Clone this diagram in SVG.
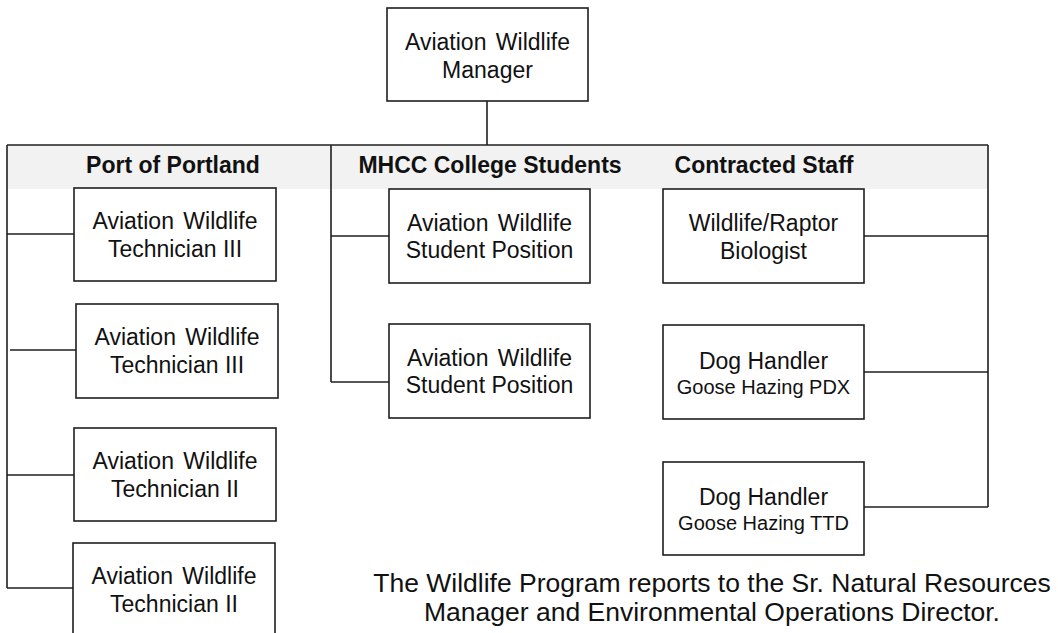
<svg xmlns="http://www.w3.org/2000/svg" width="1058" height="633" viewBox="0 0 1058 633">
<style>
  .box { fill: #ffffff; stroke: #1f1f1f; stroke-width: 1.6; }
  .ln { fill: none; stroke: #1f1f1f; stroke-width: 1.6; }
  .t { font-family: "Liberation Sans", Arial, sans-serif; font-size: 23px; fill: #111111; text-anchor: middle; }
  .s { font-family: "Liberation Sans", Arial, sans-serif; font-size: 20px; fill: #111111; text-anchor: middle; }
  .h { font-family: "Liberation Sans", Arial, sans-serif; font-size: 23px; font-weight: bold; fill: #111111; text-anchor: middle; }
  .f { font-family: "Liberation Sans", Arial, sans-serif; font-size: 26.5px; fill: #111111; text-anchor: middle; }
  .w { word-spacing: 3px; }
</style>
<rect x="0" y="0" width="1058" height="633" fill="#ffffff"/>

<g id="header-band">
  <rect x="7" y="145" width="981" height="44" fill="#f2f2f2"/>
  <text class="h" x="173" y="173">Port of Portland</text>
  <text class="h" x="490" y="173">MHCC College Students</text>
  <text class="h" x="764" y="173">Contracted Staff</text>
</g>

<g id="connectors">
  <path class="ln" d="M487 101 V145"/>
  <path class="ln" d="M7 145 H988"/>
  <path class="ln" d="M7 145 V588"/>
  <path class="ln" d="M331 145 V382"/>
  <path class="ln" d="M988 145 V507"/>
  <path class="ln" d="M7 234 H74"/>
  <path class="ln" d="M10 350 H76"/>
  <path class="ln" d="M7 475 H74"/>
  <path class="ln" d="M7 588 H73"/>
  <path class="ln" d="M331 236 H389"/>
  <path class="ln" d="M331 382 H389"/>
  <path class="ln" d="M864 236 H988"/>
  <path class="ln" d="M864 372 H988"/>
  <path class="ln" d="M864 507 H988"/>
</g>

<g id="manager">
  <rect class="box" x="387" y="8" width="201" height="93"/>
  <text class="t w" x="487.5" y="50">Aviation Wildlife</text>
  <text class="t" x="487.5" y="78">Manager</text>
</g>

<g id="tech3-a">
  <rect class="box" x="74" y="188" width="202" height="93"/>
  <text class="t w" x="175" y="229">Aviation Wildlife</text>
  <text class="t" x="175" y="257">Technician III</text>
</g>
<g id="tech3-b">
  <rect class="box" x="76" y="304" width="202" height="94"/>
  <text class="t w" x="177" y="345">Aviation Wildlife</text>
  <text class="t" x="177" y="373">Technician III</text>
</g>
<g id="tech2-a">
  <rect class="box" x="74" y="428" width="202" height="93"/>
  <text class="t w" x="175" y="469">Aviation Wildlife</text>
  <text class="t" x="175" y="497">Technician II</text>
</g>
<g id="tech2-b">
  <rect class="box" x="73" y="543" width="202" height="94"/>
  <text class="t w" x="174" y="584">Aviation Wildlife</text>
  <text class="t" x="174" y="612">Technician II</text>
</g>

<g id="student-a">
  <rect class="box" x="389" y="189" width="201" height="94"/>
  <text class="t w" x="489.5" y="230.5">Aviation Wildlife</text>
  <text class="t" x="489.5" y="258">Student Position</text>
</g>
<g id="student-b">
  <rect class="box" x="389" y="324" width="201" height="94"/>
  <text class="t w" x="489.5" y="365.5">Aviation Wildlife</text>
  <text class="t" x="489.5" y="393">Student Position</text>
</g>

<g id="biologist">
  <rect class="box" x="663" y="189" width="201" height="94"/>
  <text class="t" x="763.5" y="231">Wildlife/Raptor</text>
  <text class="t" x="763.5" y="259">Biologist</text>
</g>
<g id="dog-pdx">
  <rect class="box" x="663" y="325" width="201" height="94"/>
  <text class="t" x="763.5" y="369">Dog Handler</text>
  <text class="s" x="763.5" y="394">Goose Hazing PDX</text>
</g>
<g id="dog-ttd">
  <rect class="box" x="663" y="462" width="201" height="93"/>
  <text class="t" x="763.5" y="505">Dog Handler</text>
  <text class="s" x="763.5" y="530">Goose Hazing TTD</text>
</g>

<g id="note">
  <text class="f" x="712" y="592">The Wildlife Program reports to the Sr. Natural Resources</text>
  <text class="f" x="712" y="621">Manager and Environmental Operations Director.</text>
</g>
</svg>
